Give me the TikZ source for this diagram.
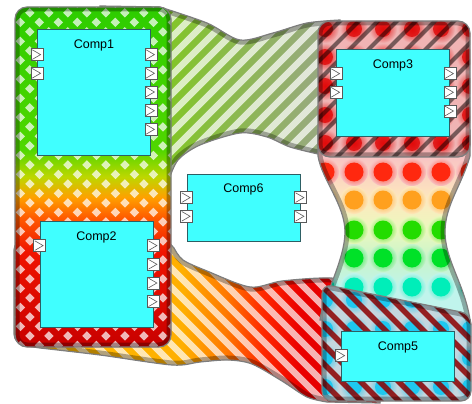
\documentclass[tikz,border=0pt]{standalone}
\usepackage{fontspec}
\setmainfont{Liberation Sans}
\usetikzlibrary{calc}

\definecolor{compcyan}{RGB}{64,255,255}
\definecolor{compline}{RGB}{45,95,100}
\definecolor{outline}{RGB}{125,125,125}
% left column (Comp1 / Comp2 area)
\definecolor{lcA}{RGB}{200,0,0}
\definecolor{lcB}{RGB}{240,20,0}
\definecolor{lcC}{RGB}{255,90,0}
\definecolor{lcD}{RGB}{255,160,0}
\definecolor{lcE}{RGB}{190,215,0}
\definecolor{lcF}{RGB}{80,215,0}
\definecolor{lcG}{RGB}{45,205,0}
% band Comp1 -> Comp3
\definecolor{btA}{RGB}{120,210,0}
\definecolor{btB}{RGB}{145,205,35}
\definecolor{btC}{RGB}{155,165,140}
% band Comp2 -> Comp5
\definecolor{bbA}{RGB}{255,190,0}
\definecolor{bbB}{RGB}{255,175,0}
\definecolor{bbC}{RGB}{255,120,0}
\definecolor{bbD}{RGB}{255,40,0}
\definecolor{bbE}{RGB}{235,0,0}
\definecolor{bbF}{RGB}{215,0,0}
% hourglass between Comp3 and Comp5
\definecolor{hgA}{RGB}{248,196,196}
\definecolor{hgB}{RGB}{253,232,190}
\definecolor{hgC}{RGB}{236,248,190}
\definecolor{hgD}{RGB}{200,244,204}
\definecolor{hgE}{RGB}{192,244,236}
\definecolor{dotred}{RGB}{255,40,15}
\definecolor{dotorange}{RGB}{255,160,30}
\definecolor{dotgreen}{RGB}{35,220,0}
\definecolor{dotgreenb}{RGB}{0,225,40}
\definecolor{dotaqua}{RGB}{0,238,185}
% Comp3 / Comp5 areas
\definecolor{cthree}{RGB}{240,180,180}
\definecolor{cthreedot}{RGB}{225,10,10}
\definecolor{cfive}{RGB}{196,214,222}
\definecolor{cfivedot}{RGB}{30,200,240}
\definecolor{cfiveline}{RGB}{140,0,0}

\pgfdeclareverticalshading{leftcol}{100bp}{color(0bp)=(lcA); color(25bp)=(lcA); color(39bp)=(lcB);
  color(44bp)=(lcC); color(47bp)=(lcD); color(50bp)=(lcE); color(54bp)=(lcF); color(75bp)=(lcG); color(100bp)=(lcG)}
\pgfdeclarehorizontalshading{bandbot}{100bp}{color(0bp)=(bbA); color(25bp)=(bbA); color(48bp)=(bbB);
  color(54bp)=(bbC); color(59bp)=(bbD); color(64bp)=(bbE); color(75bp)=(bbF); color(100bp)=(bbF)}
\pgfdeclareverticalshading{hourglass}{100bp}{color(0bp)=(hgE); color(33bp)=(hgE); color(41bp)=(hgD);
  color(49bp)=(hgC); color(57bp)=(hgB); color(68bp)=(hgA); color(100bp)=(hgA)}

% outlines of the areas (pixel units, y downwards)
\newcommand{\leftcolpath}{(15,7) rectangle (171,347)}
\newcommand{\bandtoppath}{(100,6) -- plot[smooth] coordinates {(160,7) (207,23) (240,40) (273,33) (307,23) (340,20)}
  -- (340,152) -- plot[smooth] coordinates {(318,154) (290,147) (267,137) (240,133) (200,145) (178,160) (168,182)}
  -- (100,182) -- cycle}
\newcommand{\bandbotpath}{(14,240) -- (165,238) -- plot[smooth] coordinates {(174,248) (183,260) (207,271) (250,287) (282,281) (330,278) (380,284)}
  -- (380,403) -- plot[smooth] coordinates {(327,402) (307,397) (282,381) (252,364) (228,360) (200,362) (172,365) (100,355) (40,348)}
  [rounded corners=10pt] -- (14,344) -- cycle}
\newcommand{\hourglasspath}{(318,130) -- (470,130) -- (470,156) .. controls (462,185) and (445,205) .. (445,232)
  .. controls (445,260) and (465,285) .. (470,320) -- (320,320) .. controls (322,300) and (345,260) .. (345,232)
  .. controls (345,205) and (322,180) .. (318,156) -- cycle}
\newcommand{\compthreepath}{(318,21) rectangle (470,157)}
\newcommand{\compfivepath}{(322,284) -- (471,314) -- (471,401) -- (322,401) -- cycle}

\begin{document}
\begin{tikzpicture}[x=1pt, y=-1pt,
    comp/.style={draw=compline, fill=compcyan, line width=0.8pt, minimum width=113pt, inner sep=0pt},
    complabel/.style={font=\fontsize{12.5}{14}\selectfont, anchor=base, inner sep=0pt},
    port/.style={draw=gray!70!black, fill=white, line width=0.6pt, minimum size=12pt, inner sep=0pt,
      path picture={\draw[line width=0.6pt]
        ([shift={(1.2pt,-1.2pt)}]path picture bounding box.north west)
        -- ([shift={(-2.5pt,0pt)}]path picture bounding box.east)
        -- ([shift={(1.2pt,1.2pt)}]path picture bounding box.south west);}},
    hull/.style={draw=outline, line width=1.2pt},
    rim/.style={draw=black, opacity=0.3, line width=9pt},
    palestripe/.style={white, opacity=0.72, line width=6.7pt}]
  \useasboundingbox (0,0) rectangle (472,404);

  % band Comp1 -> Comp3
  \begin{scope}
    \clip \bandtoppath;
    \shade[left color=btA, middle color=btB, right color=btC] \bandtoppath;
    \foreach \s in {-420,-401,...,500}
      \draw[palestripe] (\s,420) -- ++(420,-420);
    \draw[rim] \bandtoppath;
  \end{scope}
  \draw[hull] \bandtoppath;

  % band Comp2 -> Comp5
  \begin{scope}
    \clip \bandbotpath;
    \shade[shading=bandbot] \bandbotpath;
    \foreach \s in {-420,-401,...,500}
      \draw[palestripe, opacity=0.7] (\s,0) -- ++(420,420);
    \draw[rim] \bandbotpath;
  \end{scope}
  \draw[hull] \bandbotpath;

  % hourglass with dots
  \begin{scope}
    \clip \hourglasspath;
    \shade[shading=hourglass] \hourglasspath;
    \foreach \y/\dc/\bgc in {172/dotred/hgA, 200/dotorange/hgB, 230/dotgreen/hgC, 258/dotgreenb/hgD, 287/dotaqua/hgE}
      \foreach \x in {325,354,...,470} {
        \shade[inner color=\dc, outer color=\bgc] (\x,\y) circle (14pt);
        \fill[\dc] (\x,\y) circle (9.5pt);
      }
    \draw[rim] \hourglasspath;
  \end{scope}
  \draw[hull] \hourglasspath;

  % left column
  \begin{scope}
    \clip[rounded corners=12pt] \leftcolpath;
    \shade[shading=leftcol] \leftcolpath;
    \begin{scope}
      \clip \foreach \s in {-420,-401,...,500} {(\s,420) -- ++(9.5,0) -- ++(420,-420) -- ++(-9.5,0) -- cycle};
      \foreach \s in {-420,-401,...,500}
        \draw[palestripe] (\s,0) -- ++(420,420);
    \end{scope}
    \draw[rim, rounded corners=12pt] \leftcolpath;
  \end{scope}
  \draw[hull, rounded corners=12pt] \leftcolpath;

  % Comp3 area
  \begin{scope}
    \clip[rounded corners=12pt] \compthreepath;
    \fill[cthree] \compthreepath;
    \foreach \y in {29,57,86,115,143}
      \foreach \x in {325,354,...,470} {
        \shade[inner color=cthreedot, outer color=cthree] (\x,\y) circle (14pt);
        \fill[cthreedot, opacity=0.8] (\x,\y) circle (8pt);
      }
    \foreach \s in {-420,-401,...,500}
      \draw[black, opacity=0.5, line width=4pt] (\s,420) -- ++(420,-420);
    \draw[rim, rounded corners=12pt] \compthreepath;
  \end{scope}
  \draw[hull, rounded corners=12pt] \compthreepath;

  % Comp5 area
  \begin{scope}
    \clip[rounded corners=10pt] \compfivepath;
    \fill[cfive] \compfivepath;
    \foreach \y in {300,329,358,387}
      \foreach \x in {325,354,...,470} {
        \shade[inner color=cfivedot, outer color=cfive] (\x,\y) circle (14pt);
        \fill[cfivedot] (\x,\y) circle (8pt);
      }
    \foreach \s in {-420,-401,...,500}
      \draw[cfiveline, opacity=0.85, line width=5.5pt] (\s,0) -- ++(420,420);
    \draw[rim, rounded corners=10pt] \compfivepath;
  \end{scope}
  \draw[hull, rounded corners=10pt] \compfivepath;

  % components
  \node[comp, minimum height=126pt] (comp1) at (94,92) {};
  \node[comp, minimum height=106pt] (comp2) at (96.5,274) {};
  \node[comp, minimum height=87pt] (comp3) at (393,92.5) {};
  \node[comp, minimum height=67pt] (comp6) at (243.5,207.5) {};
  \node[comp, minimum height=50pt] (comp5) at (398,356) {};

  \node[complabel] (comp1lab) at ($(comp1.north)+(0,20)$) {Comp1};
  \node[complabel] (comp2lab) at ($(comp2.north)+(0,20)$) {Comp2};
  \node[complabel] (comp3lab) at ($(comp3.north)+(0,20)$) {Comp3};
  \node[complabel] (comp6lab) at ($(comp6.north)+(0,19)$) {Comp6};
  \node[complabel] (comp5lab) at ($(comp5.north)+(0,20)$) {Comp5};

  % ports
  \foreach \k in {1,2}
    \node[port] (c1in\k) at ($(comp1.north west)+(0,{7.3+18.7*\k})$) {};
  \foreach \k in {1,...,5}
    \node[port] (c1out\k) at ($(comp1.north east)+(0,{7.3+18.7*\k})$) {};
  \node[port] (c2in1) at ($(comp2.north west)+(0,25)$) {};
  \foreach \k in {1,...,4}
    \node[port] (c2out\k) at ($(comp2.north east)+(0,{6.3+18.7*\k})$) {};
  \foreach \k in {1,2}
    \node[port] (c3in\k) at ($(comp3.north west)+(0,{6.3+18.7*\k})$) {};
  \foreach \k in {1,...,3}
    \node[port] (c3out\k) at ($(comp3.north east)+(0,{6.3+18.7*\k})$) {};
  \foreach \k in {1,2} {
    \node[port] (c6in\k) at ($(comp6.north west)+(0,{5.3+18.7*\k})$) {};
    \node[port] (c6out\k) at ($(comp6.north east)+(0,{5.3+18.7*\k})$) {};
  }
  \node[port] (c5in1) at ($(comp5.north west)+(0,25)$) {};
\end{tikzpicture}
\end{document}
